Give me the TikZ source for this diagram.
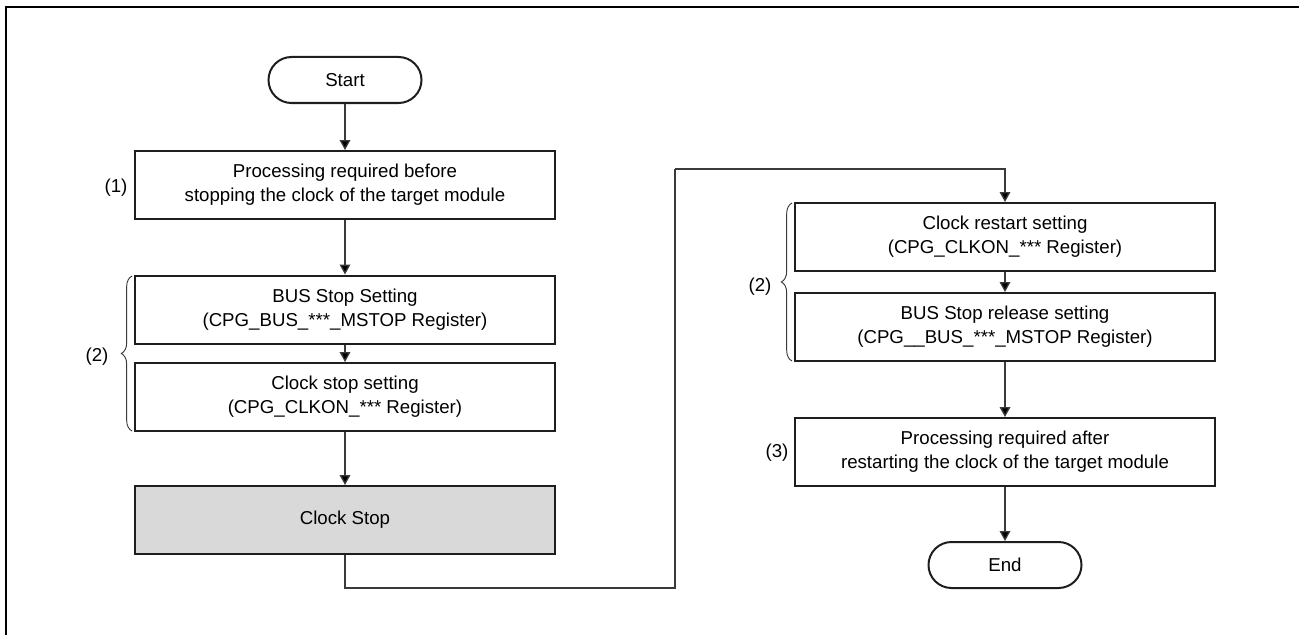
\documentclass[tikz,border=0pt]{standalone}
\usepackage{fontspec}
\setmainfont{Liberation Sans}
\usetikzlibrary{arrows.meta,decorations.pathreplacing}
\definecolor{boxline}{HTML}{1E1E1E}
\definecolor{conn}{HTML}{3A3A3A}
\definecolor{grayfill}{HTML}{D9D9D9}
\begin{document}
\begin{tikzpicture}[x=0.75pt,y=-0.75pt,
  every node/.style={font=\fontsize{14}{18}\selectfont},
  procbox/.style={draw=boxline,line width=1.5pt,minimum width=315pt,minimum height=51pt,align=center,inner sep=0pt},
  termbox/.style={draw=boxline,line width=1.5pt,minimum width=114.75pt,minimum height=34.5pt,rounded corners=17.25pt,inner sep=0pt},
  flow/.style={draw=conn,line width=1pt,-{Triangle[width=8pt,length=7.5pt,fill=black]}},
  plainline/.style={draw=conn,line width=1pt},
  bracestyle/.style={draw=conn,line width=0.7pt,decorate,decoration={brace,amplitude=8pt,aspect=0.5}},
  lbl/.style={inner sep=0pt}
]
\useasboundingbox (0,0) rectangle (1299,635);
\draw[line width=2.2pt,black] (5,7) -- (1299,7);
\draw[line width=2.2pt,black] (6,6) -- (6,635);

\node[termbox] (start) at (345,80) {Start};
\node[procbox] (b1) at (345,185) {Processing required before\\stopping the clock of the target module};
\node[procbox] (b2) at (345,309.5) {BUS Stop Setting\\(CPG\_BUS\_***\_MSTOP Register)};
\node[procbox] (b3) at (345,397) {Clock stop setting\\(CPG\_CLKON\_*** Register)};
\node[procbox,fill=grayfill] (cs) at (345,520) {Clock Stop};

\node[procbox] (b4) at (1005,237) {Clock restart setting\\(CPG\_CLKON\_*** Register)};
\node[procbox] (b5) at (1005,327) {BUS Stop release setting\\(CPG\_\_BUS\_***\_MSTOP Register)};
\node[procbox] (b6) at (1005,452) {Processing required after\\restarting the clock of the target module};
\node[termbox] (end) at (1005,565) {End};

\node[lbl] (l1) at (116,188) {(1)};
\node[lbl] (l2) at (97,357) {(2)};
\node[lbl] (l3) at (760,287) {(2)};
\node[lbl] (l4) at (777,453) {(3)};

\coordinate (c1) at (675,588);
\coordinate (c2) at (675,169);

\draw[flow] (start) -- (b1);
\draw[flow] (b1) -- (b2);
\draw[flow] (b2) -- (b3);
\draw[flow] (b3) -- (cs);
\draw[plainline] (cs.south) |- (c1) -- (c2);
\draw[flow] (c2) -| (b4.north);
\draw[flow] (b4) -- (b5);
\draw[flow] (b5) -- (b6);
\draw[flow] (b6) -- (end);

\coordinate (br1a) at (132,431);
\coordinate (br1b) at (132,276);
\coordinate (br2a) at (792,361);
\coordinate (br2b) at (792,203);
\draw[bracestyle] (br1a) -- (br1b);
\draw[bracestyle] (br2a) -- (br2b);
\end{tikzpicture}
\end{document}
